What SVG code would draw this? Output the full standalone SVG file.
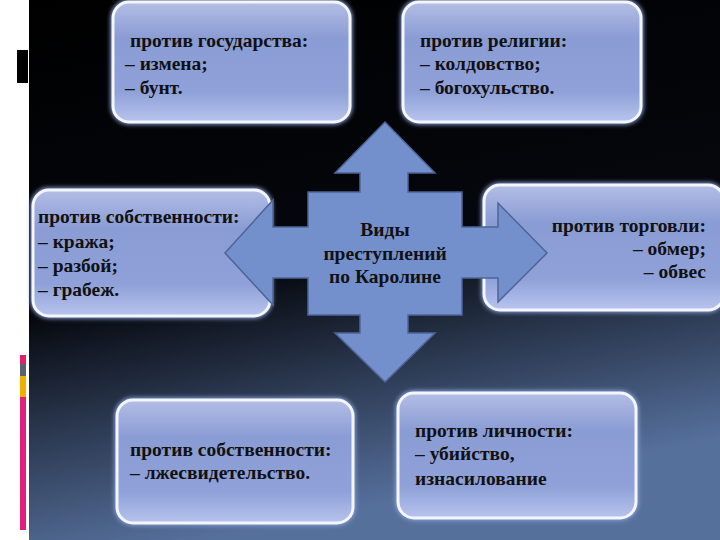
<svg xmlns="http://www.w3.org/2000/svg" width="720" height="540" viewBox="0 0 720 540">
<defs>
<linearGradient id="bg" x1="0" y1="0" x2="0.25" y2="1">
<stop offset="0" stop-color="#000"/><stop offset="0.55" stop-color="#05070d"/><stop offset="1" stop-color="#56709c"/>
</linearGradient>
<linearGradient id="bx" x1="0" y1="0" x2="0" y2="1">
<stop offset="0" stop-color="#b4bee6"/><stop offset="0.3" stop-color="#8a9cd4"/><stop offset="0.75" stop-color="#8fa1d8"/><stop offset="1" stop-color="#b8c4ee"/>
</linearGradient>
<filter id="glow" x="-10%" y="-10%" width="120%" height="120%"><feGaussianBlur stdDeviation="2"/></filter>
<style>
.b{fill:url(#bx);stroke:#f4f6ff;stroke-width:3}
.g{fill:none;stroke:#8aa0d8;stroke-width:5;filter:url(#glow)}
text{font-family:"Liberation Serif","DejaVu Serif",serif;font-weight:bold;font-size:19.5px;fill:#111}
.c{text-anchor:middle}
.r{text-anchor:end}
</style>
</defs>
<rect width="720" height="540" fill="#fff"/>
<rect x="29" width="691" height="540" fill="url(#bg)"/>
<rect x="17" y="50" width="11" height="33" fill="#000"/>
<rect x="20" y="355" width="6" height="9" fill="#e0206a"/>
<rect x="20" y="364" width="6" height="12" fill="#5a6070"/>
<rect x="20" y="376" width="6" height="21" fill="#f0b000"/>
<rect x="20" y="397" width="6" height="133" fill="#e0207a"/>
<g id="n1"><rect class="g" x="113" y="2" width="237" height="120" rx="16"/><rect class="b" x="113" y="2" width="237" height="120" rx="16"/>
<text x="130" y="47">против государства:</text><text x="125" y="70">– измена;</text><text x="125" y="94">– бунт.</text></g>
<g id="n2"><rect class="g" x="403" y="2" width="238" height="120" rx="16"/><rect class="b" x="403" y="2" width="238" height="120" rx="16"/>
<text x="420" y="47">против религии:</text><text x="420" y="70">– колдовство;</text><text x="420" y="94">– богохульство.</text></g>
<g id="n3"><rect class="g" x="33" y="190" width="237" height="126" rx="16"/><rect class="b" x="33" y="190" width="237" height="126" rx="16"/>
<text x="38" y="223">против собственности:</text><text x="38" y="248">– кража;</text><text x="38" y="272">– разбой;</text><text x="38" y="296">– грабеж.</text></g>
<g id="n4"><rect class="g" x="484" y="185" width="240" height="125" rx="16"/><rect class="b" x="484" y="185" width="240" height="125" rx="16"/>
<text class="r" x="706" y="232">против торговли:</text><text class="r" x="706" y="255">– обмер;</text><text class="r" x="706" y="278">– обвес</text></g>
<g id="n5"><rect class="g" x="117" y="400" width="236" height="123" rx="16"/><rect class="b" x="117" y="400" width="236" height="123" rx="16"/>
<text x="130" y="456">против собственности:</text><text x="130" y="479">– лжесвидетельство.</text></g>
<g id="n6"><rect class="g" x="398" y="393" width="238" height="125" rx="16"/><rect class="b" x="398" y="393" width="238" height="125" rx="16"/>
<text x="415" y="437">против личности:</text><text x="415" y="460">– убийство,</text><text x="415" y="485">изнасилование</text></g>
<g id="connectors"><g id="center">
<polygon points="385,122 435,173 408,173 408,192 462,192 462,227 498,227 498,203 547,253 498,302 498,278 462,278 462,315 408,315 408,333 435,333 385,382 335,333 360,333 360,315 308,315 308,278 273,278 273,305 225,253 273,200 273,227 308,227 308,192 360,192 360,173 335,173" fill="#7490cc" stroke="#4e6498" stroke-width="1.5"/>
<text class="c" x="385" y="236">Виды</text><text class="c" x="385" y="260">преступлений</text><text class="c" x="385" y="283">по Каролине</text>
</g></g>
</svg>
